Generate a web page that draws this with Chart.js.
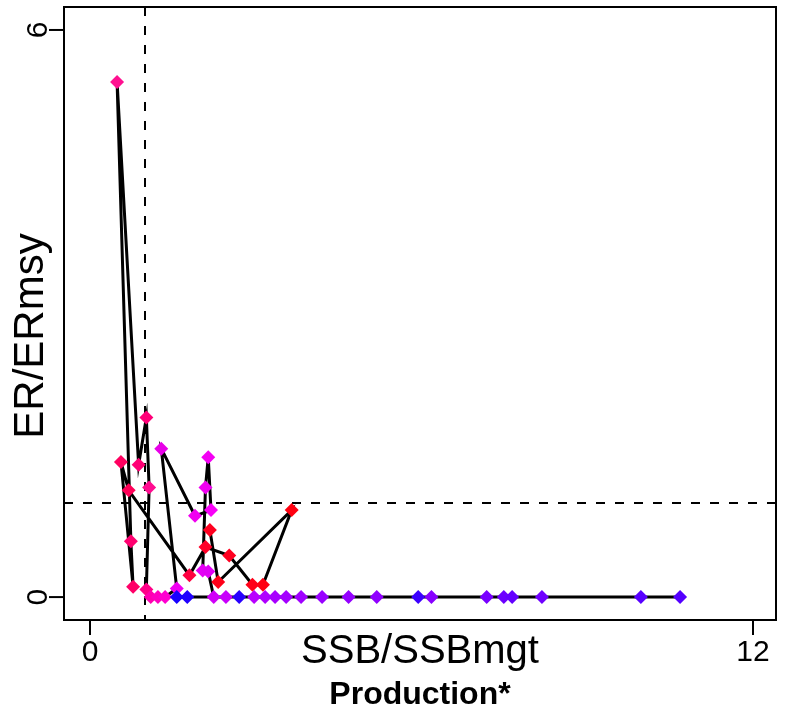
<!DOCTYPE html>
<html>
<head>
<meta charset="utf-8">
<script src="https://cdn.jsdelivr.net/npm/chart.js@4/dist/chart.umd.min.js"></script>
<style>
  html, body { margin: 0; padding: 0; background: #fff; }
  canvas { display: block; }
</style>
</head>
<body>
<canvas id="chart" width="788" height="719"></canvas>
<script>
// trajectory, in time order (SSB/SSBmgt, ER/ERmsy)
const ssb = [2.17, 2.32, 3.65, 3.13, 2.94, 2.52, 2.09, 1.80, 0.70, 0.56,
  0.78, 0.74, 0.49, 0.88, 1.02, 1.07, 1.02, 1.10, 1.23, 1.36,
  1.57, 1.29, 1.90, 2.19, 2.14, 2.09, 2.04, 2.14, 2.24, 2.46,
  2.97, 3.17, 3.35, 3.55, 3.82, 4.20, 4.68, 5.19, 6.18, 7.18,
  7.49, 7.64, 8.18, 9.97, 10.68, 5.94, 2.70, 1.76, 1.57];
const er = [0.71, 0.16, 0.92, 0.13, 0.13, 0.44, 0.53, 0.23, 1.13, 1.43,
  0.11, 0.59, 5.45, 1.40, 1.90, 1.16, 0.08, 0, 0, 0,
  0.09, 1.57, 0.86, 0.92, 1.48, 1.16, 0.28, 0.27, 0, 0,
  0, 0, 0, 0, 0, 0, 0, 0, 0, 0,
  0, 0, 0, 0, 0, 0, 0, 0, 0];

const xTicks = [0, 12];
const yTicks = [0, 6];
const refSSB = 1;
const refER = 1;

// marker colours run red -> pink -> magenta -> purple -> blue over time
const pointColors = ['#ff0020', '#ff0018', '#ff0010', '#ff0010', '#ff0018', '#ff0020', '#ff0028', '#ff0040', '#ff0058', '#ff0060',
  '#ff0068', '#ff0070', '#ff1090', '#ff0075', '#ff0078', '#ff0c90', '#ff0088', '#ff00b0', '#ff00c0', '#ff00d0',
  '#f000f0', '#e800e8', '#f000f0', '#f800f8', '#f400f4', '#f000f0', '#e400f4', '#e000f4', '#d000f8', '#c800fc',
  '#b800ff', '#b000ff', '#a800ff', '#a400ff', '#a000ff', '#9800ff', '#9400ff', '#9000ff', '#8800ff', '#7800ff',
  '#6c00ff', '#6400ff', '#7000ff', '#5800ff', '#5400ff', '#3c00ff', '#2800ff', '#2000ff', '#1800ff'];

const points = ssb.map((x, i) => ({ x: x, y: er[i] }));

const FONT = '"Liberation Sans", Arial, Helvetica, sans-serif';

const framePlugin = {
  id: 'frame',
  beforeDatasetsDraw(chart) {
    const { ctx, chartArea: a, scales: { x, y } } = chart;
    ctx.save();
    ctx.strokeStyle = '#000';
    ctx.lineWidth = 2;
    ctx.setLineDash([9, 10]);
    const px = Math.round(x.getPixelForValue(refSSB));
    const py = Math.round(y.getPixelForValue(refER));
    ctx.beginPath();
    ctx.moveTo(px, a.top);
    ctx.lineTo(px, a.bottom);
    ctx.moveTo(a.left, py);
    ctx.lineTo(a.right, py);
    ctx.stroke();
    ctx.restore();
  },
  afterDraw(chart) {
    const { ctx, chartArea: a, scales: { x, y } } = chart;
    ctx.save();
    ctx.strokeStyle = '#000';
    ctx.fillStyle = '#000';
    ctx.lineWidth = 2;
    ctx.strokeRect(a.left, a.top, a.right - a.left, a.bottom - a.top);

    // x ticks
    ctx.font = '30px ' + FONT;
    ctx.textAlign = 'center';
    ctx.textBaseline = 'middle';
    xTicks.forEach(v => {
      const px = x.getPixelForValue(v);
      ctx.beginPath();
      ctx.moveTo(px, a.bottom);
      ctx.lineTo(px, a.bottom + 15);
      ctx.stroke();
      ctx.fillText(String(v), px, 653);
    });
    // y ticks, labels turned like R
    yTicks.forEach(v => {
      const py = y.getPixelForValue(v);
      ctx.beginPath();
      ctx.moveTo(a.left, py);
      ctx.lineTo(a.left - 15, py);
      ctx.stroke();
      ctx.save();
      ctx.translate(39, py);
      ctx.rotate(-Math.PI / 2);
      ctx.fillText(String(v), 0, 0);
      ctx.restore();
    });

    // axis titles
    ctx.font = '40px ' + FONT;
    ctx.fillText('SSB/SSBmgt', (a.left + a.right) / 2, 652);
    ctx.font = '42px ' + FONT;
    ctx.save();
    ctx.translate(31, 336);
    ctx.rotate(-Math.PI / 2);
    ctx.fillText('ER/ERmsy', 0, 0);
    ctx.restore();

    ctx.font = 'bold 32px ' + FONT;
    ctx.fillText('Production*', (a.left + a.right) / 2, 695);
    ctx.restore();
  }
};

new Chart(document.getElementById('chart'), {
  type: 'scatter',
  data: {
    datasets: [{
      data: points,
      showLine: true,
      borderColor: '#000',
      borderWidth: 3,
      tension: 0,
      pointStyle: 'rectRot',
      pointRadius: 7,
      pointBorderWidth: 0,
      pointBackgroundColor: pointColors,
      pointBorderColor: pointColors
    }]
  },
  options: {
    responsive: false,
    animation: false,
    layout: { padding: { left: 64, top: 5, right: 12, bottom: 99 } },
    plugins: { legend: { display: false }, tooltip: { enabled: false } },
    scales: {
      x: { type: 'linear', display: false, min: -0.4706, max: 12.416 },
      y: { type: 'linear', display: false, min: -0.2425, max: 6.243 }
    }
  },
  plugins: [framePlugin]
});
</script>
</body>
</html>
